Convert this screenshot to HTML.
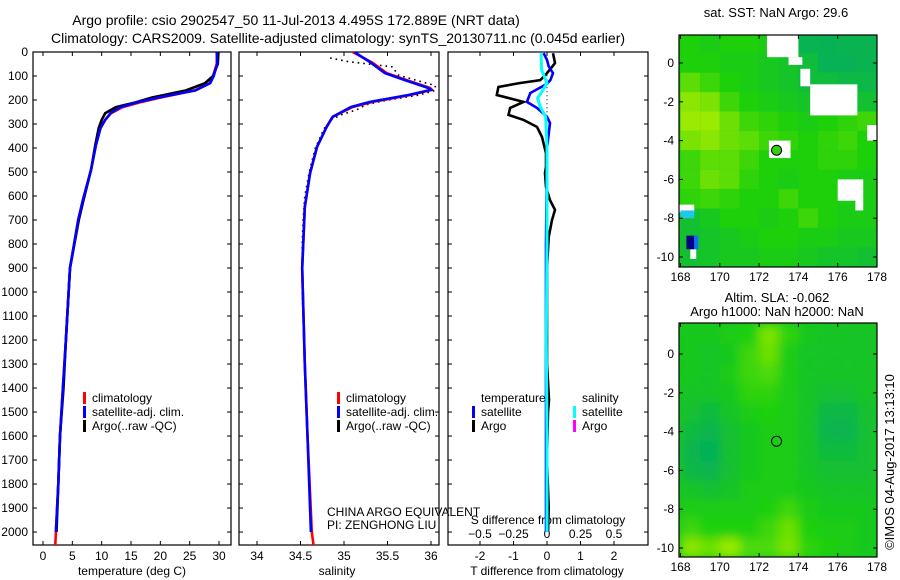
<!DOCTYPE html>
<html><head><meta charset="utf-8"><style>
html,body{margin:0;padding:0;background:#fff;}
svg{display:block;font-family:"Liberation Sans",sans-serif;}
text{font-size:12px;fill:#000;}
text.big{font-size:14px;}
text.mid{font-size:13px;}
</style></head><body>
<svg id="fig" width="900" height="580" viewBox="0 0 900 580">
<defs>
<clipPath id="c1"><rect x="33" y="52" width="198" height="493"/></clipPath>
<clipPath id="c2"><rect x="239" y="52" width="200" height="493"/></clipPath>
<clipPath id="c3"><rect x="448" y="52" width="200" height="493"/></clipPath>
<clipPath id="cm1"><rect x="679" y="35" width="198" height="232"/></clipPath>
<clipPath id="cm2"><rect x="679" y="323" width="198" height="234"/></clipPath>
<filter id="blur" x="-10%" y="-10%" width="120%" height="120%"><feGaussianBlur stdDeviation="5"/></filter>
</defs>
<text class="big" x="296" y="25" text-anchor="middle">Argo profile: csio 2902547_50 11-Jul-2013 4.495S 172.889E (NRT data)</text>
<text class="big" x="338" y="43" text-anchor="middle">Climatology: CARS2009. Satellite-adjusted climatology: synTS_20130711.nc (0.045d earlier)</text>
<text class="mid" x="776" y="17" text-anchor="middle">sat. SST: NaN Argo: 29.6</text>
<text class="mid" x="777" y="302" text-anchor="middle">Altim. SLA: -0.062</text>
<text class="mid" x="777" y="316" text-anchor="middle">Argo h1000: NaN h2000: NaN</text>
<text class="mid" transform="translate(894,462) rotate(-90)" text-anchor="middle">©IMOS 04-Aug-2017 13:13:10</text>
<text x="132" y="575" text-anchor="middle">temperature (deg C)</text>
<text x="337" y="575" text-anchor="middle">salinity</text>
<text x="547" y="575" text-anchor="middle">T difference from climatology</text>
<text x="548" y="524" text-anchor="middle">S difference from climatology</text>
<text x="327" y="516">CHINA ARGO EQUIVALENT</text>
<text x="327" y="529">PI: ZENGHONG LIU</text>
<g id="layer"></g>
</svg>
<script>
// ---------- data ----------
const depthsT = [0,50,100,130,160,190,210,230,255,283,317,390,490,617,700,900,1200,1400,1600,1800,2000,2054];
const climT = [29.7,29.6,29.0,28.4,25.9,20.0,16.5,13.5,11.6,10.6,9.8,9.0,8.2,6.8,6.0,4.6,3.9,3.4,2.9,2.6,2.2,2.1];
const satDepthsT = [0,50,100,130,160,190,210,230,255,283,317,390,490,617,700,900,1200,1400,1600,1800,2000];
const satT = [29.6,29.7,29.1,28.5,26.0,19.6,16.0,13.2,11.5,10.6,9.8,9.0,8.2,6.8,6.0,4.6,3.9,3.4,2.9,2.6,2.2];
const argoT = [29.9,29.8,29.0,27.6,24.4,18.5,15.8,12.4,10.6,10.0,9.5,8.9,8.2,6.9,6.1,4.6,3.9,3.5,2.9,2.6,2.3];
const tempTicks = [0,5,10,15,20,25,30];
const depthTicks = [0,100,200,300,400,500,600,700,800,900,1000,1100,1200,1300,1400,1500,1600,1700,1800,1900,2000];

const depthsS = [0,45,88,117,150,158,179,208,229,270,312,396,504,646,900,1300,1600,2000,2054];
const climS = [35.10,35.33,35.49,35.72,35.99,36.01,35.76,35.33,35.10,34.87,34.80,34.69,34.61,34.55,34.52,34.55,34.58,34.63,34.65];
const satDepthsS = [0,45,88,117,150,158,179,208,229,270,312,396,504,646,900,1300,1600,2000];
const satS = [35.12,35.31,35.47,35.70,35.97,36.00,35.74,35.30,35.08,34.87,34.80,34.69,34.61,34.55,34.52,34.55,34.58,34.62];
const argoDepthsS = [25,40,62,96,120,140,160,180,200,220,240,260,283,320,400,500,600,700,800,1000,1200,1400,1600,1800,2000];
const argoS = [34.84,35.05,35.56,35.62,35.85,36.05,36.05,35.85,35.5,35.25,35.15,34.98,34.85,34.77,34.67,34.6,34.55,34.53,34.52,34.52,34.54,34.56,34.58,34.6,34.62];
const salTicks = [34,34.5,35,35.5,36];

const diffDepthsArgoT = [5,46,62,88,117,129,146,179,208,233,262,283,312,354,421,479,504,562,617,658,700,771,900,1100,1300,1450,1500,1700,1900,2000];
const diffArgoT = [0.18,0.24,0.15,0,-0.2,-0.8,-1.45,-1.5,-0.7,-1.1,-1.15,-0.7,-0.3,-0.15,-0.03,-0.03,-0.06,-0.03,0.09,0.24,0.15,0.05,0.0,0.0,0.0,0.06,0.03,0.0,0.05,0.03];
const diffDepthsSatT = [5,33,60,88,117,133,171,208,233,270,296,400,800,1200,1600,2000];
const diffSatT = [-0.1,0,0.05,0.18,0.1,0,-0.5,-0.6,-0.3,0,0.09,0,-0.03,-0.03,-0.03,-0.03];
const diffDepthsSatS = [5,75,129,158,192,229,270,400,800,1200,1600,2000];
const diffSatS = [-0.045,-0.04,0,-0.03,-0.07,-0.05,-0.01,0,0,-0.005,0,0];
const tDiffTicks = [-2,-1,0,1,2];
const sDiffTicks = [-0.5,-0.25,0,0.25,0.5];

const lonTicks = [168,170,172,174,176,178];
const latTicks = [0,-2,-4,-6,-8,-10];
const mapLats = [1,0,-1,-2,-3,-4,-5,-6,-7,-8,-9,-10];
const mapLons = [168.5,169.5,170.5,171.5,172.5,173.5,174.5,175.5,176.5,177.5];
const sstGrid = [
[0.5,0.45,0.5,0.5,0.45,0.4,0.15,0.12,0.15,0.15],
[0.5,0.5,0.45,0.45,0.4,0.35,0.25,0.12,0.12,0.15],
[0.7,0.6,0.5,0.45,0.4,0.35,0.25,0.25,0.2,0.2],
[0.85,0.8,0.6,0.5,0.45,0.4,0.35,0.35,0.35,0.3],
[0.9,0.9,0.75,0.6,0.55,0.5,0.45,0.5,0.55,0.6],
[0.8,0.85,0.75,0.7,0.6,0.55,0.5,0.55,0.6,0.5],
[0.6,0.7,0.7,0.6,0.5,0.5,0.5,0.55,0.55,0.5],
[0.6,0.75,0.7,0.55,0.5,0.45,0.5,0.5,0.45,0.45],
[0.55,0.6,0.55,0.5,0.5,0.6,0.5,0.5,0.45,0.45],
[0.3,0.4,0.5,0.5,0.45,0.5,0.6,0.5,0.45,0.45],
[0.3,0.35,0.4,0.45,0.5,0.5,0.45,0.45,0.4,0.4],
[0.3,0.35,0.4,0.4,0.45,0.45,0.4,0.35,0.35,0.3]];
// NaN (no-data) boxes in SST map: [lonMin, lonMax, latMax, latMin]
const sstNaNBoxes = [
[172.4,174.0,1.5,0.3],[173.5,174.2,0.3,-0.1],[174.1,174.6,-0.3,-1.2],[174.6,177.0,-1.1,-2.7],
[177.5,178.0,-3.2,-4.0],[172.5,173.6,-4.0,-4.9],[176.0,177.3,-6.0,-7.1],[176.9,177.3,-7.0,-7.6],[167.9,168.7,-7.3,-7.7],[168.5,168.8,-9.6,-10.1]];
// special colour patches: [lonMin, lonMax, latMax, latMin, value]
const sstPatches = [[168.0,168.7,-7.6,-8.0,-3],[168.3,168.7,-8.9,-9.6,-2],[168.7,168.9,-8.9,-9.6,-4]];
const slaGrid = [
[0.4,0.4,0.45,0.5,0.8,0.55,0.4,0.35,0.35,0.35],
[0.4,0.35,0.4,0.6,0.75,0.45,0.35,0.35,0.35,0.35],
[0.4,0.35,0.45,0.6,0.65,0.45,0.35,0.35,0.35,0.35],
[0.35,0.35,0.4,0.55,0.55,0.45,0.35,0.3,0.3,0.35],
[0.3,0.25,0.35,0.45,0.5,0.45,0.35,0.2,0.2,0.3],
[0.25,0.15,0.3,0.4,0.45,0.45,0.35,0.15,0.15,0.3],
[0.15,0.1,0.3,0.4,0.45,0.45,0.35,0.25,0.25,0.3],
[0.2,0.15,0.3,0.4,0.45,0.45,0.35,0.3,0.3,0.3],
[0.35,0.3,0.35,0.45,0.45,0.45,0.4,0.35,0.35,0.35],
[0.45,0.45,0.45,0.45,0.5,0.6,0.45,0.4,0.4,0.4],
[0.6,0.5,0.5,0.5,0.6,0.75,0.5,0.45,0.45,0.4],
[0.85,0.75,0.9,0.65,0.65,0.8,0.55,0.5,0.45,0.4]];
const argoLon = 172.889;
const argoLat = -4.495;

// ---------- helpers ----------
const NS = "http://www.w3.org/2000/svg";
const layer = document.getElementById('layer');
function mk(tag, attrs, parent){
  const e = document.createElementNS(NS, tag);
  for (const k in attrs) e.setAttribute(k, attrs[k]);
  (parent||layer).appendChild(e);
  return e;
}
function lin(d0,d1,r0,r1){ return v => r0 + (v-d0)/(d1-d0)*(r1-r0); }
const yD = lin(0,2054,52,545);
const x1 = lin(0,30,43,219);
const x2 = lin(34,36,257,431);
const x3 = lin(0,2,547,614);
const x3s = v => x3(v*4);
const lonX = lin(168,178,680.5,877);
const latY1 = lin(0,-10,63,257);
const latY2 = lin(0,-10,354,548);

function frame(x,y,w,h,name){
  const r = mk('rect',{x:x,y:y,width:w,height:h,fill:'none',stroke:'#000','stroke-width':1.2});
  
  
}
function tick(x1_,y1_,x2_,y2_){
  const l = mk('line',{x1:x1_,y1:y1_,x2:x2_,y2:y2_,stroke:'#000','stroke-width':1});
  
  
}
function label(x,y,s,anchor,name){
  const t = mk('text',{x:x,y:y,'text-anchor':anchor||'middle'});
  t.textContent = s;
  
  
}
function line(xs, ds, xf, color, clip, name, w, dash){
  const pts = xs.map((v,i)=> xf(v).toFixed(1)+','+yD(ds[i]).toFixed(1)).join(' ');
  const a = {points:pts,fill:'none',stroke:color,'stroke-width':w||2.6,'clip-path':'url(#'+clip+')'};
  if (dash) a['stroke-dasharray'] = dash;
  const p = mk('polyline',a);
  
  
}
function profileAxes(L,R,xf,xt,showY){
  const T=52,B=545;
  xt.forEach(v=>{ const x=xf(v); tick(x,B,x,B-4); tick(x,T,x,T+4); });
  depthTicks.forEach(d=>{ const y=yD(d); tick(L,y,L+4,y); tick(R,y,R-4,y);
    if(showY) label(L-5,y+4,String(d),'end','depth-tick-label'); });
}

// ---------- panel 1: temperature ----------
frame(33,52,198,493,'temperature-plot-frame');
profileAxes(33,231,x1,tempTicks,true);
tempTicks.forEach(v=>label(x1(v),560,String(v),'middle','temperature-tick-label'));
line(climT,depthsT,x1,'#ff0000','c1','climatology-temperature-line');
line(argoT,satDepthsT,x1,'#000000','c1','argo-temperature-line');
line(satT,satDepthsT,x1,'#0000ff','c1','satellite-temperature-line');

// ---------- panel 2: salinity ----------
frame(239,52,200,493,'salinity-plot-frame');
profileAxes(239,439,x2,salTicks,false);
salTicks.forEach(v=>label(x2(v),560,String(v),'middle','salinity-tick-label'));
line(argoS,argoDepthsS,x2,'#000000','c2','argo-salinity-dotted-line',1.6,'1.6,4');
line(climS,depthsS,x2,'#ff0000','c2','climatology-salinity-line');
line(satS,satDepthsS,x2,'#0000ff','c2','satellite-salinity-line');

// ---------- panel 3: differences ----------
frame(448,52,200,493,'difference-plot-frame');
profileAxes(448,648,x3,tDiffTicks,false);
tDiffTicks.forEach(v=>label(x3(v),560,String(v),'middle','t-diff-tick-label'));
sDiffTicks.forEach(v=>label(x3s(v),538,v===0?'0':String(v).replace('-','\u2212'),'middle','s-diff-tick-label'));
const zl = mk('line',{x1:x3(0),y1:yD(80),x2:x3(0),y2:yD(270),stroke:'#000','stroke-width':1,'stroke-dasharray':'1,3'});


line(diffArgoT,diffDepthsArgoT,x3,'#000000','c3','argo-t-diff-line');
line(diffSatT,diffDepthsSatT,x3,'#0000ff','c3','satellite-t-diff-line');
line(diffSatS,diffDepthsSatS,x3s,'#00ffff','c3','satellite-s-diff-line',3);

// ---------- legends ----------
function legendEntry(x,y,color,txt,name){
  const r = mk('rect',{x:x,y:y-10,width:3,height:12,fill:color});
  
  
  label(x+9,y,txt,'start',name);
}
legendEntry(83,402,'#ff0000','climatology','legend-climatology');
legendEntry(83,416,'#0000ff','satellite-adj. clim.','legend-satellite-adj');
legendEntry(83,430,'#000000','Argo(..raw -QC)','legend-argo');
legendEntry(337,402,'#ff0000','climatology','legend-climatology-sal');
legendEntry(337,416,'#0000ff','satellite-adj. clim.','legend-satellite-adj-sal');
legendEntry(337,430,'#000000','Argo(..raw -QC)','legend-argo-sal');
label(481,402,'temperature','start','legend-temperature-heading');
label(582,402,'salinity','start','legend-salinity-heading');
legendEntry(472,416,'#0000ff','satellite','legend-t-satellite');
legendEntry(472,430,'#000000','Argo','legend-t-argo');
legendEntry(573,416,'#00ffff','satellite','legend-s-satellite');
legendEntry(573,430,'#ff00ff','Argo','legend-s-argo');

// ---------- maps ----------
function cmap(v){
  if (v===-1) return '#ffffff';
  if (v===-2) return '#000080';
  if (v===-3) return '#20c8e8';
  if (v===-4) return '#1070ff';
  const a=[0,168,110], b=[30,208,10], c=[185,240,0];
  let p,q,t;
  if (v<0.5){p=a;q=b;t=v/0.5;} else {p=b;q=c;t=(v-0.5)/0.5;}
  return 'rgb('+p.map((u,i)=>Math.round(u+(q[i]-u)*t)).join(',')+')';
}
function box(b, latY, val, parent, name){
  const x0=lonX(b[0]), x1_=lonX(b[1]), y0=latY(b[2]), y1_=latY(b[3]);
  const r = mk('rect',{x:x0,y:y0,width:x1_-x0,height:y1_-y0,fill:cmap(val)},parent);
  
  
}
function drawMap(grid, latY, clip, name, smooth){
  const g = mk('g',{'clip-path':'url(#'+clip+')'});
  
  
  const bg = mk('rect',{x:670,y:latY(2.5),width:220,height:latY(-11.5)-latY(2.5),fill:cmap(0.4)},g);
  
  
  const inner = mk('g', smooth?{filter:'url(#blur)'}:{}, g);
  grid.forEach((row,ri)=>row.forEach((v,ci)=>{
    const lat = mapLats[ri], lon = mapLons[ci];
    box([lon-0.5,lon+0.5,lat+0.5,lat-0.5], latY, v, inner, 'map-cell');
  }));
  return g;
}
function mapAxes(latY, top, bottom, name){
  frame(679,top,198,bottom-top,name+'-frame');
  lonTicks.forEach(v=>{ const x=lonX(v); tick(x,bottom,x,bottom-4); tick(x,top,x,top+4);
    label(x,bottom+14,String(v),'middle',name+'-lon-label'); });
  latTicks.forEach(v=>{ const y=latY(v); tick(679,y,683,y); tick(877,y,873,y);
    label(674,y+4,String(v),'end',name+'-lat-label'); });
}
const sstG = drawMap(sstGrid, latY1, 'cm1', 'sst-map', false);
sstNaNBoxes.forEach(b=>box(b, latY1, -1, sstG, 'sst-nodata-patch'));
sstPatches.forEach(b=>box(b, latY1, b[4], sstG, 'sst-cold-patch'));
mapAxes(latY1, 35, 267, 'sst-map');
const m1 = mk('circle',{cx:lonX(argoLon),cy:latY1(argoLat),r:5,fill:'#30d010',stroke:'#000','stroke-width':1});


drawMap(slaGrid, latY2, 'cm2', 'sla-map', true);
mapAxes(latY2, 323, 557, 'sla-map');
const m2 = mk('circle',{cx:lonX(argoLon),cy:latY2(argoLat),r:5,fill:'none',stroke:'#000','stroke-width':1});


</script>
</body></html>
